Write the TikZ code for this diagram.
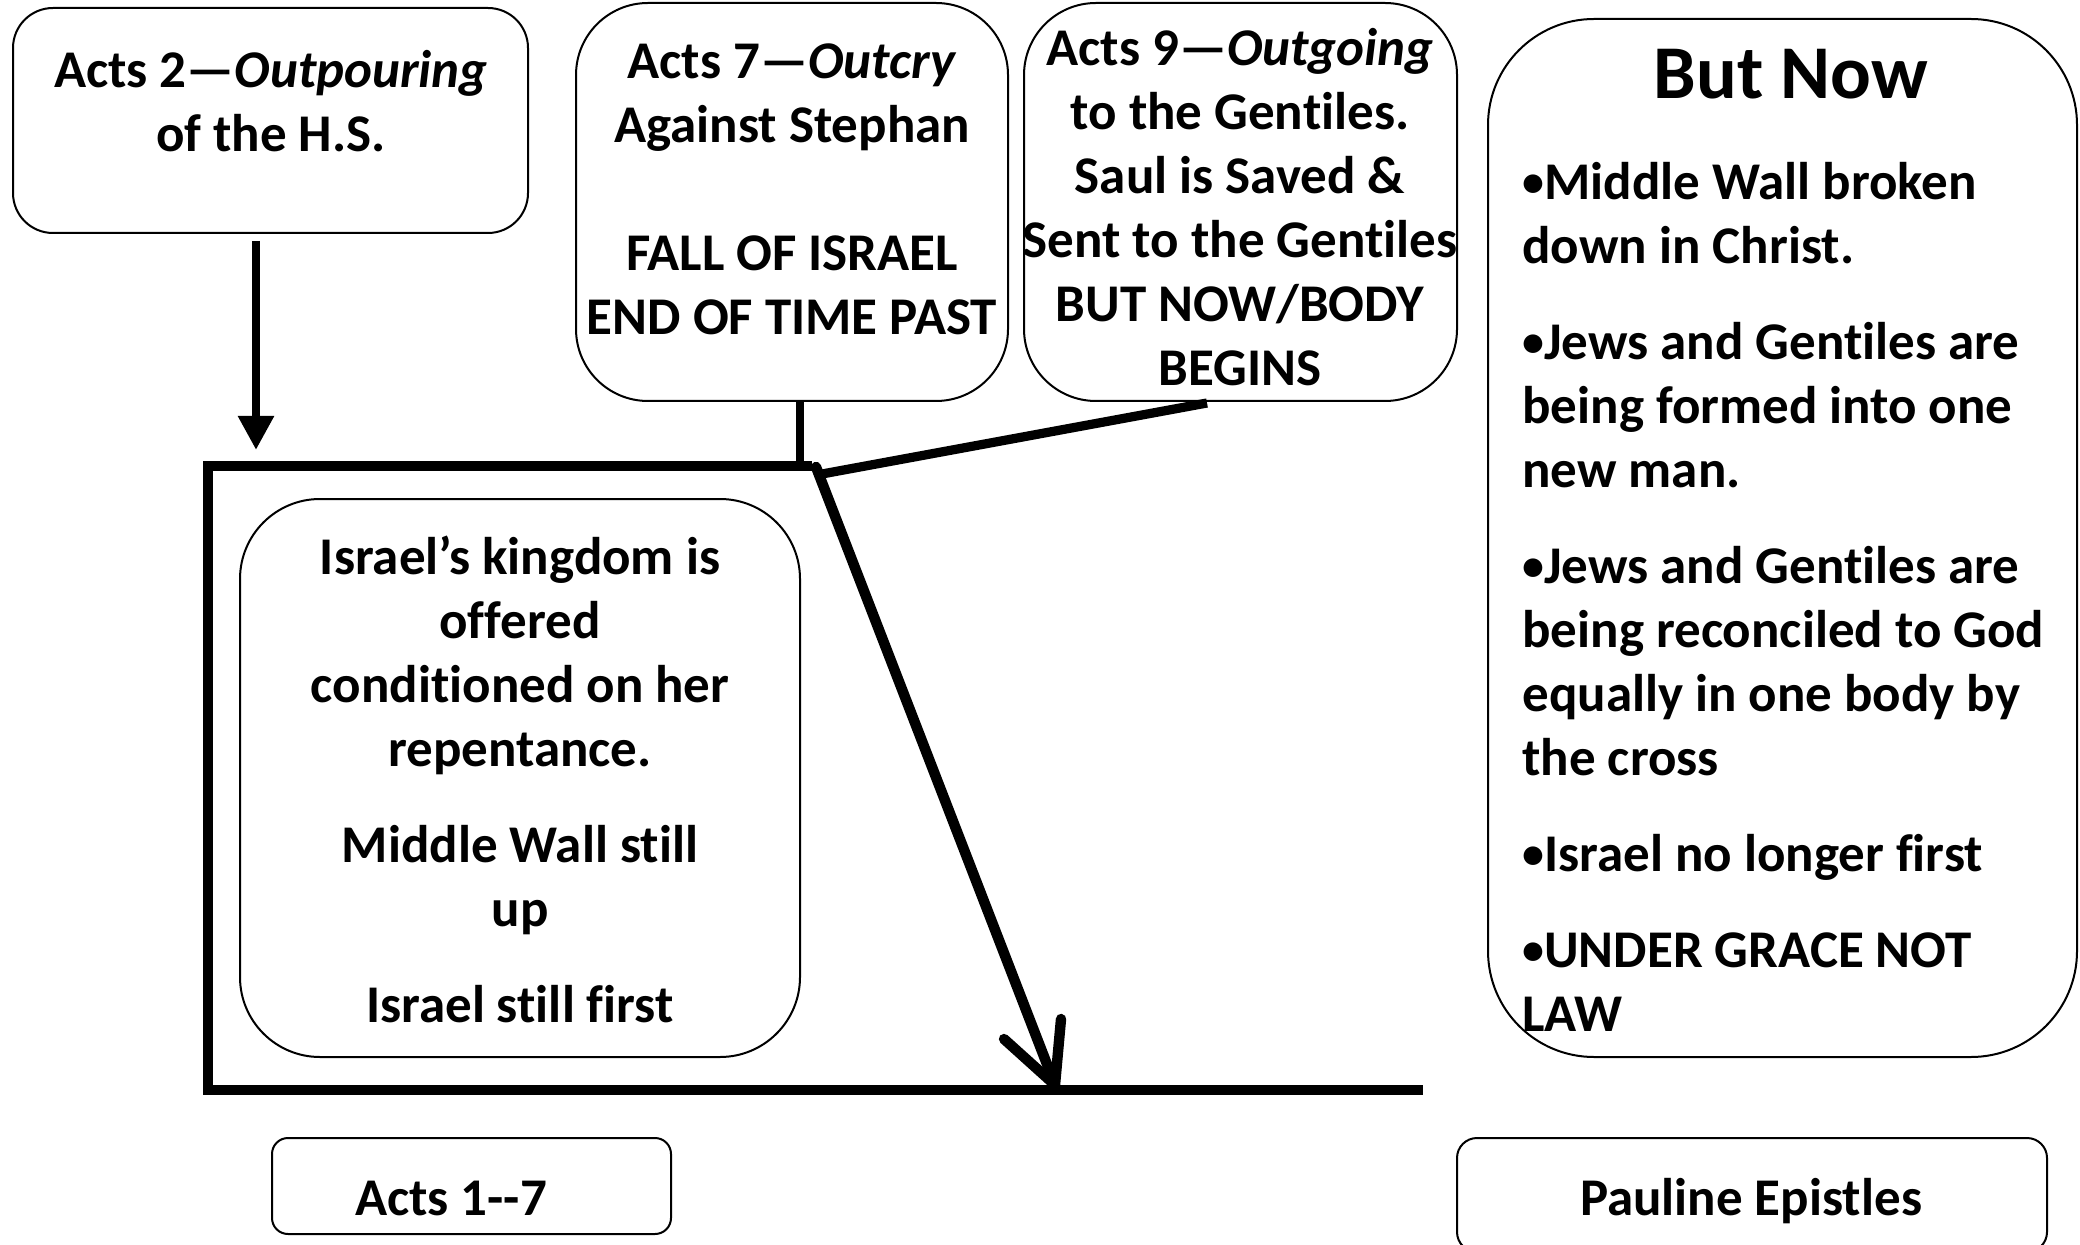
\documentclass[tikz,border=0pt]{standalone}
\usepackage{fontspec}
\setmainfont{Carlito}[Ligatures={TeX,NoCommon}]
\usetikzlibrary{arrows.meta}
\newcommand\fs{\rule{0pt}{24pt}}
\newcommand\bul{\raisebox{1.6pt}{\fontsize{22}{32}\selectfont•}}
\begin{document}
\begin{tikzpicture}[x=0.5pt,y=-0.5pt,
  box/.style={draw=black,line width=1pt,rounded corners=#1},
  txt/.style={font=\bfseries\fontsize{26.5}{32}\selectfont,inner sep=0pt,anchor=north,align=center},
  heavy/.style={line width=5.2pt},
]
\useasboundingbox (0,0) rectangle (2080,1245);
% boxes (text top = first baseline - 48)
\draw[box=20pt] (13,8) rectangle (528,233);
\node[txt] (a2t) at (271,39) {\fs Acts 2—\textit{Outpouring}\\of the H.S.};
\coordinate (a2b) at (256,241);

\draw[box=36pt] (576,3) rectangle (1008,401);
\node[txt] (a7t) at (792,30) {\fs Acts 7—\textit{Outcry}\\Against Stephan\\[32pt]FALL OF ISRAEL\\END OF TIME PAST};
\coordinate (a7b) at (800,401);

\draw[box=36pt] (1024,3) rectangle (1457,401);
\node[txt] (a9t) at (1240,17) {\fs Acts 9—\textit{Outgoing}\\to the Gentiles.\\Saul is Saved \&\\Sent to the Gentiles\\BUT NOW/BODY\\BEGINS};
\coordinate (a9b) at (1207,403);

\draw[box=53pt] (1488,19) rectangle (2077,1057);
\node[txt,anchor=base,font=\bfseries\fontsize{38}{46}\selectfont] (bn) at (1791,99) {But Now};
\node[txt,align=left,anchor=north west] (bnt) at (1522,151) {\fs \bul Middle Wall broken\\down in Christ.\\[16pt]\bul Jews and Gentiles are\\being formed into one\\new man.\\[16pt]\bul Jews and Gentiles are\\being reconciled to God\\equally in one body by\\the cross\\[16pt]\bul Israel no longer first\\[16pt]\bul UNDER GRACE NOT\\LAW};

\draw[box=40pt] (240,499) rectangle (800,1057);
\node[txt] (ik) at (520,526) {\fs Israel’s kingdom is\\offered\\conditioned on her\\repentance.\\[16pt]Middle Wall still\\up\\[16pt]Israel still first};

\draw[box=8pt] (272,1138) rectangle (671,1234);
\node[txt,anchor=base] (a17) at (451,1215) {Acts 1-{}-7};

\draw[box=10pt] (1457,1138) rectangle (2047,1252);
\node[txt,anchor=base] (pe) at (1751,1215) {Pauline Epistles};

% timeline
\coordinate (tl) at (208,466);
\coordinate (tr) at (812,466);
\coordinate (stemend) at (800,464);
\coordinate (bl) at (208,1090);
\coordinate (br) at (1423,1090);
\coordinate (ds) at (816,467);
\coordinate (dt) at (1055,1085);
\coordinate (bar1) at (1004,1039);
\coordinate (bar2) at (1061,1019);
\coordinate (j9) at (822,474);
\coordinate (arrtip) at (256,450);

\draw[line width=4.2pt,-{Triangle[width=17pt,length=17pt]}] (a2b) -- (arrtip);
\draw[heavy] (tr) -- (tl) -- (bl) -- (br);
\draw[line width=3.8pt] (a7b) -- (stemend);
\draw[line width=4.6pt] (a9b) -- (j9);
\draw[heavy,line cap=round] (ds) -- (dt);
\draw[heavy,line cap=round,line join=round] (bar1) -- (dt) -- (bar2);
\end{tikzpicture}
\end{document}
